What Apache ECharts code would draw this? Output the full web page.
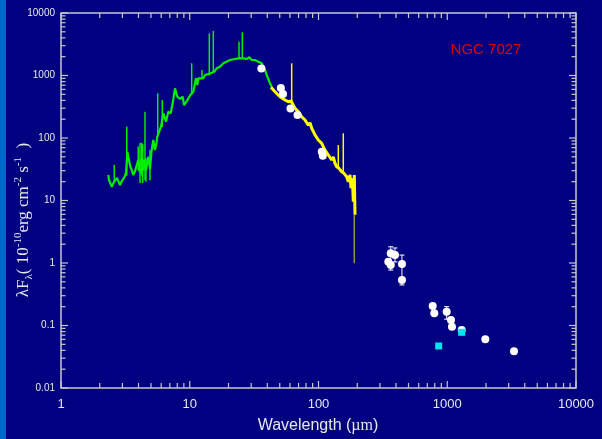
<!DOCTYPE html>
<html><head><meta charset="utf-8">
<script src="https://cdn.jsdelivr.net/npm/echarts@6/dist/echarts.min.js"></script>
<style>html,body{margin:0;padding:0;background:#000080;}#c{width:602px;height:439px;}</style>
</head><body><div id="c"></div>
<script>
// ---- Data (wavelength in µm, λFλ in 1e-10 erg cm^-2 s^-1) ----
const greenWl   = [2.33,2.36,2.48,2.55,2.63,2.72,2.79,2.87,2.95,3.01,3.12,3.20,3.28,3.33,3.45,3.54,3.64,3.75,3.87,3.98,4.11,4.24,4.31,4.40,4.57,4.76,4.91,5.06,5.21,5.37,5.50,5.60,5.80,5.98,6.23,6.54,6.81,7.11,7.37,7.68,8.01,8.40,8.81,9.02,9.57,10.04,10.66,11.18,11.45,11.65,12.01,12.74,13.14,13.54,14.55,15.51,16.19,17.18,18.22,19.12,20.54,22.46,23.84,26.06,27.69,29.01,30.29,32.13,34.08,36.22,38.42,40.04,42.02,43.32];
const greenFlux = [25.6,21.3,16.6,19,19.1,23,24.0,17.7,20,21.3,24,28,60,50.2,35,30.8,25.6,29,30.8,45,28,50,30,45,30,50.2,32,64.3,92.9,64.3,80,104.9,104.9,151.6,248.5,182.3,263.6,248.5,359,624,458,420,458,337,400,480,550,902,705,902,847,902,1019,957,1084,1150,1304,1383,1567,1650,1770,1837,1884,1884,1837,1956,1770,1770,1663,1567,1225,957,750,662];
const greenSpikeWl   = [2.59,3.24,3.98,4.11,4.24,4.31,4.49,4.57,4.91,5.64,6.12,10.35,12.45,14.19,15.24,24.13,25.60];
const greenSpikeBase = [19,25,30,83,25,80,21,20,64,105,150,500,880,1000,1100,1884,1884];
const greenSpikePeak = [37,152,73,19,84,19,264,48,21,519,405,1567,1225,4734,5152,3474,4911];

const yellowWl   = [42.76,45.93,50.23,54.94,58.28,61.14,63.04,65.70,69.68,74.05,78.55,83.33,85.90,88.56,93.93,99.64,105.9,112.3,119.2,126.6,130.3,134.3,138.5,144.3,151.4,157.8,165.6,170.4,175.7,178.9,183.1,186.4,189.7,192.1];
const yellowFlux = [647,550,458,405,381,390,381,299,264,219,194,161,175,143,112,93,82,64,53.5,44.5,50,39.4,34.7,32.7,28.9,27.2,24.0,20.0,25.6,15.7,22.7,9.6,25.6,5.9];
const yellowSpikeWl   = [61.91,142.5,155.8];
const yellowSpikeBase = [390,34,29];
const yellowSpikePeak = [1567,77,119];
const tailWl = [189.7], tailTop = [5.9], tailBottom = [0.99];

const photWl   = [36,51,53,60.6,68.7,106,108,364,348.5,364,392.7,445,445,771,793,990,1069,1088,1295,1975,3299];
const photFlux = [1300,630,505,296,233,60,52,1.43,1.05,0.93,1.34,0.96,0.535,0.205,0.157,0.166,0.122,0.0957,0.0848,0.0601,0.0386];
const errWl   = [364,392.7,445,990];
const errLow  = [0.77,1.04,0.445,0.126];
const errHigh = [1.82,1.74,1.34,0.2];
const cyanWl   = [858,1295];
const cyanFlux = [0.047,0.0778];

const xTickLabels = ['1','10','100','1000','10000'];
const yTickLabels = ['0.01','0.1','1','10','100','1000','10000'];

// ---- Build ----
const X0 = 1, X1 = 10000, Y0 = 0.01, Y1 = 10000;
const axisCol = '#c8c8c8';
function pairs(a, b) { return a.map((v, i) => [v, b[i]]); }
function triples(a, b, c) { return a.map((v, i) => [v, b[i], c[i]]); }
function segItem(color, width) {
  return function (params, api) {
    const p1 = api.coord([api.value(0), api.value(1)]);
    const p2 = api.coord([api.value(0), api.value(2)]);
    return { type: 'line', shape: { x1: p1[0], y1: p1[1], x2: p2[0], y2: p2[1] }, style: { stroke: color, lineWidth: width } };
  };
}
const xTicks = [], yTicks = [];
for (let e = 0; e < 4; e++) for (let m = 1; m <= 9; m++) xTicks.push([m * Math.pow(10, e), 1, m === 1 ? 1 : 0]);
xTicks.push([10000, 1, 1]);
for (let e = -2; e < 4; e++) for (let m = 1; m <= 9; m++) yTicks.push([1, +(m * Math.pow(10, e)).toPrecision(3), m === 1 ? 1 : 0]);
yTicks.push([1, 10000, 1]);

const chart = echarts.init(document.getElementById('c'), null, { renderer: 'canvas' });
chart.setOption({
  backgroundColor: '#000080',
  animation: false,
  grid: { left: 61, right: 26, top: 13, bottom: 51, show: true, borderColor: axisCol, borderWidth: 1.5, backgroundColor: 'transparent' },
  xAxis: {
    type: 'log', logBase: 10, min: X0, max: X1,
    axisLine: { show: false }, axisTick: { show: false }, splitLine: { show: false },
    axisLabel: { color: '#e8e8e8', fontSize: 13, fontFamily: 'Liberation Sans, Arial', margin: 10,
      formatter: v => { const i = Math.round(Math.log10(v)); return xTickLabels[i] || ''; } }
  },
  yAxis: {
    type: 'log', logBase: 10, min: Y0, max: Y1,
    axisLine: { show: false }, axisTick: { show: false }, splitLine: { show: false },
    axisLabel: { color: '#e8e8e8', fontSize: 10, fontFamily: 'Liberation Sans, Arial', margin: 6,
      formatter: v => { const i = Math.round(Math.log10(v)) + 2; return yTickLabels[i] || ''; } }
  },
  graphic: [
    { type: 'rect', left: 0, top: 0, shape: { width: 6, height: 439 }, style: { fill: '#0066cc' }, z: 100 },
    { type: 'text', x: 486, y: 50, style: { text: 'NGC 7027', fill: '#e00000', font: '15px "Liberation Sans", Arial', align: 'center', verticalAlign: 'middle' } },
    { type: 'text', x: 318, y: 426, style: {
        text: '{a|Wavelength (}{b|µm}{a|)}', align: 'center', verticalAlign: 'middle',
        rich: { a: { fontSize: 16, fontFamily: 'Liberation Sans', fill: '#e8e8e8' }, b: { fontSize: 16, fontFamily: 'Liberation Serif', fill: '#e8e8e8' } } } },
    { type: 'text', x: 24, y: 220, rotation: Math.PI / 2, style: {
        text: '{t|λF}{sub|λ}{t|( 10}{sup|-10}{t|erg cm}{sup|-2}{t| s}{sup|-1}{t|  )}', align: 'center', verticalAlign: 'middle',
        rich: {
          t: { fontSize: 17, fontFamily: 'Liberation Serif', fill: '#e8e8e8', lineHeight: 22 },
          sub: { fontSize: 11, fontFamily: 'Liberation Serif', fill: '#e8e8e8', verticalAlign: 'bottom', lineHeight: 22 },
          sup: { fontSize: 11, fontFamily: 'Liberation Serif', fill: '#e8e8e8', verticalAlign: 'top', lineHeight: 22 }
        } } }
  ],
  series: [
    { type: 'custom', name: 'xticks', data: xTicks, clip: false, silent: true, z: 10,
      renderItem: (p, api) => {
        const v = api.value(0), len = api.value(2) ? 7 : 5;
        const b = api.coord([v, Y0]), t = api.coord([v, Y1]);
        return { type: 'group', children: [
          { type: 'line', shape: { x1: b[0], y1: b[1], x2: b[0], y2: b[1] - len }, style: { stroke: axisCol, lineWidth: 1.2 } },
          { type: 'line', shape: { x1: t[0], y1: t[1], x2: t[0], y2: t[1] + len }, style: { stroke: axisCol, lineWidth: 1.2 } }
        ] };
      } },
    { type: 'custom', name: 'yticks', data: yTicks, clip: false, silent: true, z: 10,
      renderItem: (p, api) => {
        const v = api.value(1), len = api.value(2) ? 7 : 4.5;
        const l = api.coord([X0, v]), r = api.coord([X1, v]);
        return { type: 'group', children: [
          { type: 'line', shape: { x1: l[0], y1: l[1], x2: l[0] + len, y2: l[1] }, style: { stroke: axisCol, lineWidth: 1.2 } },
          { type: 'line', shape: { x1: r[0], y1: r[1], x2: r[0] - len, y2: r[1] }, style: { stroke: axisCol, lineWidth: 1.2 } }
        ] };
      } },
    { type: 'line', name: 'ISO SWS', data: pairs(greenWl, greenFlux), showSymbol: false, z: 3,
      lineStyle: { color: '#00ee00', width: 2.2 } },
    { type: 'custom', name: 'SWS lines', data: triples(greenSpikeWl, greenSpikeBase, greenSpikePeak), z: 3,
      renderItem: segItem('#00ee00', 1.5) },
    { type: 'line', name: 'ISO LWS', data: pairs(yellowWl, yellowFlux), showSymbol: false, z: 4,
      lineStyle: { color: '#ffff00', width: 3 } },
    { type: 'custom', name: 'LWS lines', data: triples(yellowSpikeWl, yellowSpikeBase, yellowSpikePeak), z: 4,
      renderItem: segItem('#ffff00', 1.5) },
    { type: 'custom', name: 'LWS tail', data: triples(tailWl, tailTop, tailBottom), z: 4,
      renderItem: segItem('#9a9436', 1.5) },
    { type: 'custom', name: 'errors', data: triples(errWl, errLow, errHigh), z: 6,
      renderItem: (p, api) => {
        const a = api.coord([api.value(0), api.value(1)]), b = api.coord([api.value(0), api.value(2)]);
        const st = { stroke: '#ffffff', lineWidth: 1 };
        return { type: 'group', children: [
          { type: 'line', shape: { x1: a[0], y1: a[1], x2: b[0], y2: b[1] }, style: st },
          { type: 'line', shape: { x1: a[0] - 2.5, y1: a[1], x2: a[0] + 2.5, y2: a[1] }, style: st },
          { type: 'line', shape: { x1: b[0] - 2.5, y1: b[1], x2: b[0] + 2.5, y2: b[1] }, style: st }
        ] };
      } },
    { type: 'scatter', name: 'photometry', data: pairs(photWl, photFlux), symbol: 'circle', symbolSize: 8, z: 7,
      itemStyle: { color: '#ffffff', opacity: 1 } },
    { type: 'scatter', name: 'cyan', data: pairs(cyanWl, cyanFlux), symbol: 'rect', symbolSize: 7, z: 8,
      itemStyle: { color: '#00e4ee', opacity: 1 } }
  ]
});
</script></body></html>
